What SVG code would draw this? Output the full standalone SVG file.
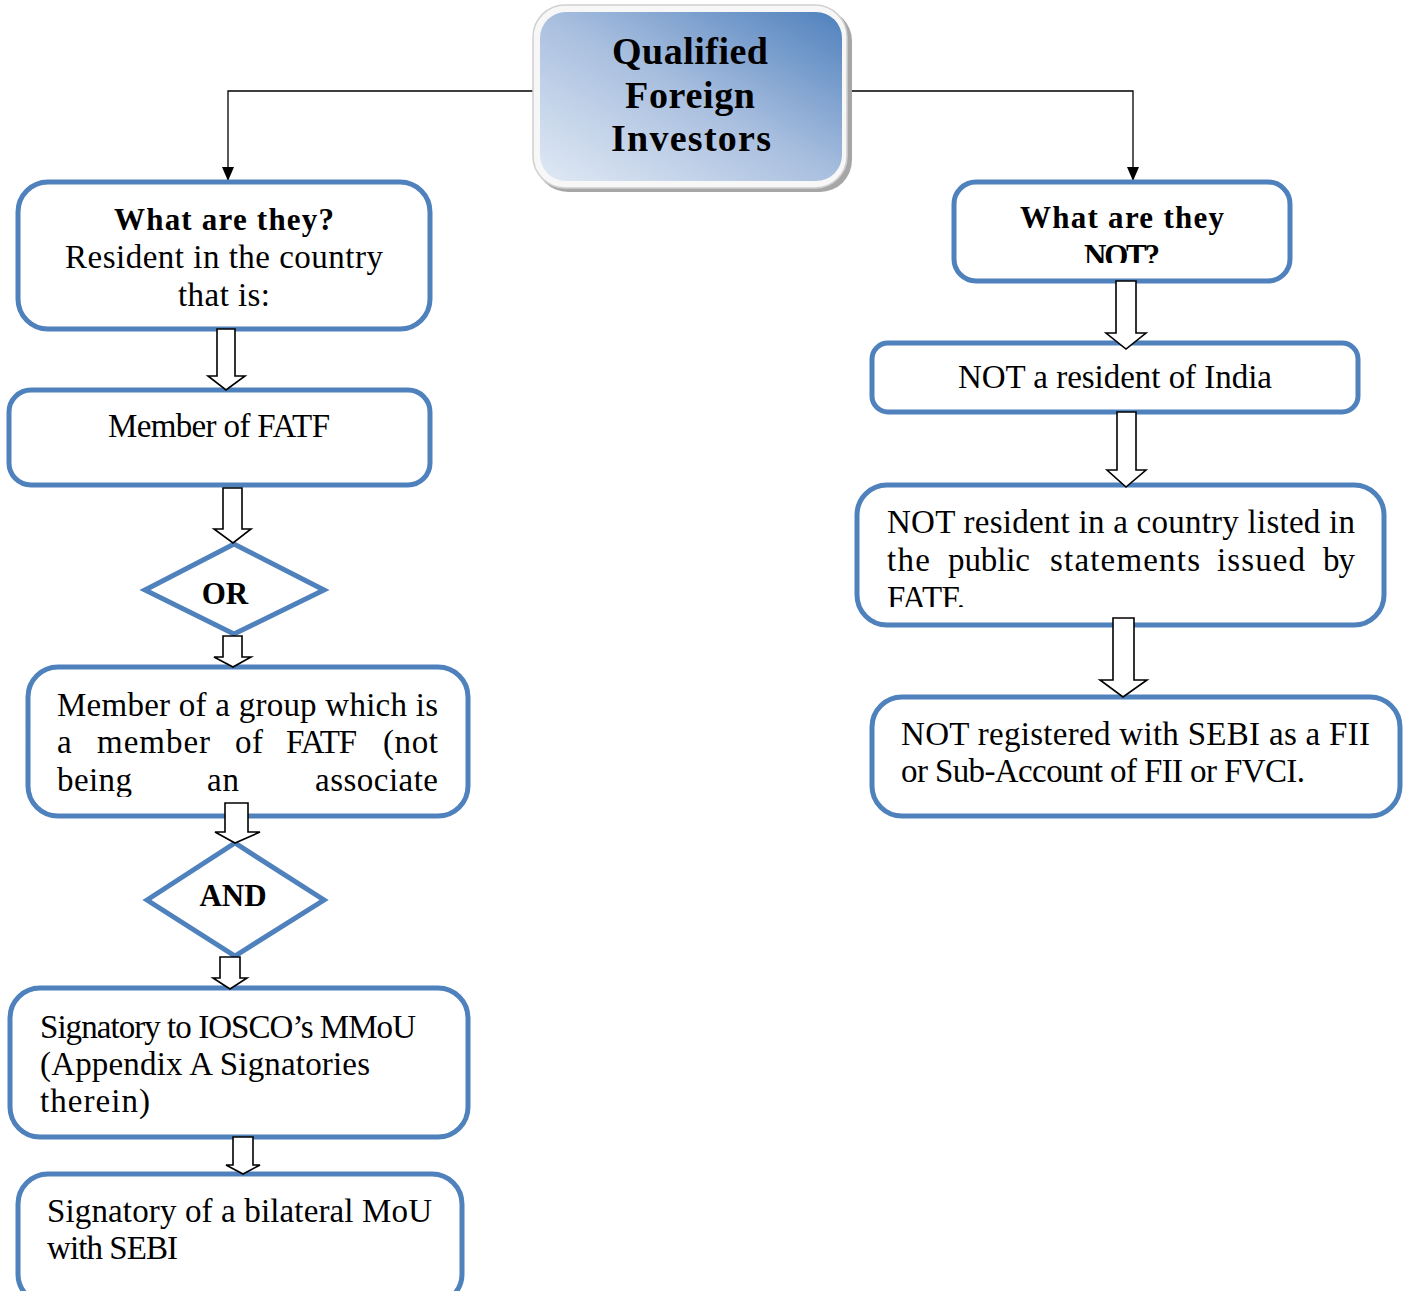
<svg xmlns="http://www.w3.org/2000/svg" width="1405" height="1291" viewBox="0 0 1405 1291">
<style>
.box{fill:#fff;stroke:#4f81bd;stroke-width:5}
.dia{fill:#fff;stroke:#4f81bd;stroke-width:5;stroke-linejoin:miter}
.t{font-family:"Liberation Serif","Times New Roman",serif;font-size:33px;fill:#000}
.b{font-family:"Liberation Serif","Times New Roman",serif;font-size:31px;font-weight:bold;fill:#000}
.h{font-family:"Liberation Serif","Times New Roman",serif;font-size:38px;font-weight:bold;fill:#000}
.c{text-anchor:middle}
.e{text-anchor:end}
.ha{fill:#fff;stroke:#000;stroke-width:1.6;stroke-linejoin:miter}
.ln{fill:none;stroke:#000;stroke-width:1.3}
</style>
<defs>
<linearGradient id="g" x1="0" y1="1" x2="1" y2="0">
<stop offset="0" stop-color="#e0e9f4"/>
<stop offset="0.5" stop-color="#a9bfdf"/>
<stop offset="1" stop-color="#4f81bd"/>
</linearGradient>
<marker id="ah" markerWidth="14" markerHeight="12" refX="14" refY="6" orient="auto" markerUnits="userSpaceOnUse" viewBox="0 0 14 12">
<path d="M0,0 L14,6 L0,12 Z" fill="#000"/>
</marker>
<clipPath id="c3"><rect x="30" y="670" width="436" height="127"/></clipPath>
<clipPath id="cr1"><rect x="956" y="185" width="332" height="78"/></clipPath>
<clipPath id="cr3"><rect x="859" y="488" width="523" height="119"/></clipPath>
</defs>

<g id="connectors">
<path class="ln" d="M537,91 H228 V181" marker-end="url(#ah)"/>
<path class="ln" d="M845,91 H1133 V181" marker-end="url(#ah)"/>
</g>

<g id="qfi">
<rect x="536" y="9" width="316" height="183" rx="32" fill="#a6a6a6"/>
<rect x="533" y="5" width="314" height="183" rx="32" fill="#f7f7f7" stroke="#d0d0d0" stroke-width="1.5"/>
<rect x="540" y="12" width="302" height="169" rx="26" fill="url(#g)"/>
<text class="h c" x="690" y="64" textLength="156">Qualified</text>
<text class="h c" x="690" y="108" textLength="130">Foreign</text>
<text class="h c" x="691" y="151" textLength="160">Investors</text>
</g>

<g id="what">
<rect class="box" x="18" y="182" width="412" height="147" rx="30"/>
<text class="b c" x="224" y="230" textLength="220">What are they?</text>
<text class="t c" x="224" y="268" textLength="318">Resident in the country</text>
<text class="t c" x="224" y="306" textLength="92">that is:</text>
</g>

<g id="fatf">
<rect class="box" x="9" y="390" width="421" height="95" rx="22"/>
<text class="t c" x="219" y="437" textLength="222">Member of FATF</text>
</g>

<g id="or">
<polygon class="dia" points="145,590 234,544 324,590 234,634"/>
<text class="b c" x="225" y="604">OR</text>
</g>

<g id="group">
<rect class="box" x="28" y="667" width="440" height="149" rx="30"/>
<text class="t" x="57" y="716" textLength="381">Member of a group which is</text>
<text class="t" x="57" y="753">a</text>
<text class="t" x="97" y="753" textLength="113">member</text>
<text class="t" x="235" y="753" textLength="28">of</text>
<text class="t" x="286" y="753" textLength="71">FATF</text>
<text class="t e" x="438" y="753" textLength="55">(not</text>
<g clip-path="url(#c3)">
<text class="t" x="57" y="791" textLength="75">being</text>
<text class="t" x="207" y="791" textLength="32">an</text>
<text class="t e" x="438" y="791" textLength="123">associate</text>
</g>
</g>

<g id="and">
<polygon class="dia" points="147,900 235,843 324,900 235,956"/>
<text class="b c" x="233" y="906" font-size="29">AND</text>
</g>

<g id="iosco">
<rect class="box" x="10" y="988" width="458" height="149" rx="30"/>
<text class="t" x="40" y="1038" textLength="376">Signatory to IOSCO’s MMoU</text>
<text class="t" x="40" y="1075" textLength="330">(Appendix A Signatories</text>
<text class="t" x="40" y="1112" textLength="110">therein)</text>
</g>

<g id="bilateral">
<rect class="box" x="18" y="1174" width="444" height="130" rx="30"/>
<text class="t" x="47" y="1222" textLength="385">Signatory of a bilateral MoU</text>
<text class="t" x="47" y="1259" textLength="131">with SEBI</text>
</g>

<g id="whatnot">
<rect class="box" x="954" y="182" width="336" height="99" rx="22"/>
<text class="b c" x="1122" y="228" textLength="204">What are they</text>
<g clip-path="url(#cr1)">
<text class="b c" x="1122" y="266" textLength="76">NOT?</text>
</g>
</g>

<g id="notindia">
<rect class="box" x="872" y="343" width="486" height="69" rx="16"/>
<text class="t c" x="1115" y="388" textLength="314">NOT a resident of India</text>
</g>

<g id="notlisted">
<rect class="box" x="857" y="485" width="527" height="140" rx="30"/>
<text class="t" x="887" y="533" textLength="468">NOT resident in a country listed in</text>
<text class="t" x="887" y="571" textLength="43">the</text>
<text class="t" x="948" y="571" textLength="82">public</text>
<text class="t" x="1050" y="571" textLength="150">statements</text>
<text class="t" x="1217" y="571" textLength="88">issued</text>
<text class="t e" x="1355" y="571" textLength="32">by</text>
<g clip-path="url(#cr3)">
<text class="t" x="887" y="609" textLength="78">FATF.</text>
</g>
</g>

<g id="notsebi">
<rect class="box" x="872" y="697" width="528" height="119" rx="30"/>
<text class="t" x="901" y="745" textLength="469">NOT registered with SEBI as a FII</text>
<text class="t" x="901" y="782" textLength="404">or Sub-Account of FII or FVCI.</text>
</g>

<g id="flow-arrows">
<path class="ha" d="M217,329 H235 V376 H245 L226,390 L208,376 H217 Z"/>
<path class="ha" d="M223,488 H242 V529 H251 L233,543 L214,529 H223 Z"/>
<path class="ha" d="M223,636 H242 V657 H251 L233,667 L214,657 H223 Z"/>
<path class="ha" d="M225,803 H248 V832 H260 L235,843 L215,832 H225 Z"/>
<path class="ha" d="M220,957 H240 V978 H247 L230,989 L213,978 H220 Z"/>
<path class="ha" d="M233,1137 H253 V1165 H260 L243,1174 L226,1165 H233 Z"/>
<path class="ha" d="M1116,281 H1136 V333 H1146 L1126,349 L1106,333 H1116 Z"/>
<path class="ha" d="M1117,412 H1136 V470 H1146 L1126,487 L1107,470 H1117 Z"/>
<path class="ha" d="M1113,618 H1134 V680 H1147 L1123,697 L1100,680 H1113 Z"/>
</g>
</svg>
